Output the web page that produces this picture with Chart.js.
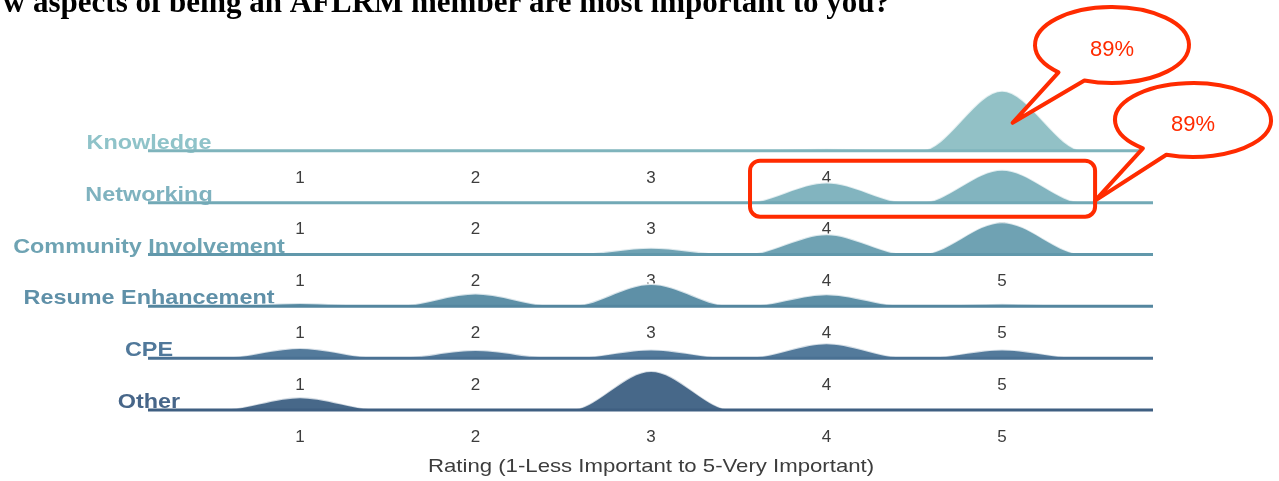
<!DOCTYPE html>
<html>
<head>
<meta charset="utf-8">
<script src="https://cdn.jsdelivr.net/npm/chart.js"></script>
<style>
  html, body { margin: 0; padding: 0; background: #fff; overflow: hidden; }
</style>
</head>
<body>
<canvas id="myChart" width="1279" height="481"></canvas>
<script>
// rows, top to bottom
const aspects = ['Knowledge', 'Networking', 'Community Involvement', 'Resume Enhancement', 'CPE', 'Other'];
const ratings = [1, 2, 3, 4, 5];
const tickLabels = ['1', '2', '3', '4', '5'];

// height of each ridge at rating 1..5 (% of answers)
const knowledge  = [0, 0, 1, 3, 89];
const networking = [0, 2, 1, 30, 49];
const community  = [0, 0, 10, 30, 48];
const resume     = [5, 19, 33, 18, 4];
const cpe        = [15, 12, 13, 22, 13];
const other      = [19, 1, 58, 0, 1];

const callouts = ['89%', '89%'];
const xTitle = 'Rating (1-Less Important to 5-Very Important)';
const question = 'w aspects of being an AFLRM member are most important to you?';

const rows = [knowledge, networking, community, resume, cpe, other];

// styling
const fills  = ['#92c1c6', '#82b4bf', '#6fa2b3', '#5e90a7', '#537a9b', '#476889'];
const lines  = ['#7fb4bc', '#72a9b6', '#6198ab', '#54869f', '#4a7193', '#3f5f81'];
const labelColors = ['#8fc3c9', '#7fb2bf', '#6ea3b3', '#5f90a8', '#50789a', '#476689'];
const X_MIN = 0.134, X_MAX = 5.86;
const ROW_STEP = 76.9;   // vertical gap between ridges, in value units
const FOOT = 0.47;       // half width of a bump at its foot
const RED = '#ff2b00';

function baseOf(i) { return (rows.length - 1 - i) * ROW_STEP; }

const datasets = [];
rows.forEach((vals, i) => {
  const base = baseOf(i);
  const pts = [{ x: X_MIN, y: base }];
  ratings.forEach((r, j) => {
    pts.push({ x: r - FOOT, y: base });
    pts.push({ x: r, y: base + vals[j] });
    pts.push({ x: r + FOOT, y: base });
  });
  pts.push({ x: X_MAX, y: base });
  datasets.push({
    label: aspects[i],
    data: pts,
    fill: { value: base },
    backgroundColor: fills[i],
    borderColor: 'rgba(255,255,255,0.75)',
    borderWidth: 2,
    pointRadius: 0,
    cubicInterpolationMode: 'monotone',
    clip: false,
    order: 100 - i * 10
  });
  datasets.push({
    label: aspects[i] + ' baseline',
    data: [{ x: X_MIN, y: base }, { x: X_MAX, y: base }],
    fill: false,
    borderColor: lines[i],
    borderWidth: 3,
    pointRadius: 0,
    clip: false,
    order: 99 - i * 10
  });
});

const textPlugin = {
  id: 'ridgeText',
  beforeDatasetsDraw(chart) {
    const ctx = chart.ctx;
    const xs = chart.scales.x, ys = chart.scales.y;
    ctx.save();
    // question title, cropped at the top of the shot
    ctx.fillStyle = '#000';
    ctx.font = 'bold 31px "Liberation Serif"';
    ctx.textAlign = 'right';
    ctx.textBaseline = 'alphabetic';
    ctx.fillText(question, 890, 12);

    // rating ticks under every ridge
    ctx.fillStyle = '#3d3d3d';
    ctx.font = '17px "Liberation Sans"';
    ctx.textAlign = 'center';
    ctx.textBaseline = 'middle';
    rows.forEach((v, i) => {
      const py = ys.getPixelForValue(baseOf(i)) + 27;
      ratings.forEach((r, j) => ctx.fillText(tickLabels[j], xs.getPixelForValue(r), py));
    });

    // row names, centred on the left end of each ridge
    ctx.font = 'bold 20px "Liberation Sans"';
    ctx.textBaseline = 'alphabetic';
    aspects.forEach((name, i) => {
      const py = ys.getPixelForValue(baseOf(i)) - 2;
      ctx.save();
      ctx.translate(xs.left + 1, py);
      ctx.scale(1.17, 1);
      ctx.fillStyle = labelColors[i];
      ctx.fillText(name, 0, 0);
      ctx.restore();
    });

    // x axis title
    ctx.fillStyle = '#3d3d3d';
    ctx.save();
    ctx.translate((xs.getPixelForValue(1) + xs.getPixelForValue(5)) / 2, 467);
    ctx.scale(1.167, 1);
    ctx.font = '19px "Liberation Sans"';
    ctx.textBaseline = 'middle';
    ctx.fillText(xTitle, 0, 0);
    ctx.restore();
    ctx.restore();
  },
  afterDraw(chart) {
    const ctx = chart.ctx;
    const xs = chart.scales.x, ys = chart.scales.y;
    const netBase = ys.getPixelForValue(baseOf(1));
    const knBase = ys.getPixelForValue(baseOf(0));
    ctx.save();
    ctx.strokeStyle = RED;
    ctx.lineWidth = 4;
    ctx.lineJoin = 'round';

    // box round Networking ratings 4 and 5
    const bx0 = xs.getPixelForValue(3.564), bx1 = xs.getPixelForValue(5.53);
    ctx.beginPath();
    ctx.roundRect(bx0, netBase - 42, bx1 - bx0, 56, 10);
    ctx.stroke();

    function bubble(cx, cy, rx, ry, a0, a1, tx, ty, text) {
      ctx.beginPath();
      ctx.ellipse(cx, cy, rx, ry, 0, a0 * Math.PI / 180, (a1 + 360) * Math.PI / 180);
      ctx.lineTo(tx, ty);
      ctx.closePath();
      ctx.fillStyle = '#fff';
      ctx.fill();
      ctx.stroke();
      ctx.fillStyle = RED;
      ctx.font = '22px "Liberation Sans"';
      ctx.textAlign = 'center';
      ctx.textBaseline = 'middle';
      ctx.fillText(text, cx, cy + 5);
    }
    bubble(1112, 45, 77, 38, 134, 111, xs.getPixelForValue(5.06), knBase - 28, callouts[0]);
    bubble(1193, 120, 78, 37, 130, 110, bx1, netBase - 2, callouts[1]);
    ctx.restore();
  }
};

new Chart(document.getElementById('myChart'), {
  type: 'line',
  data: { datasets },
  options: {
    responsive: false,
    animation: false,
    layout: { padding: { left: 148, right: 126, top: 59.5, bottom: 57.5 } },
    plugins: { legend: { display: false }, tooltip: { enabled: false } },
    scales: {
      x: { type: 'linear', display: false, min: X_MIN, max: X_MAX },
      y: { type: 'linear', display: false, min: -20, max: 520 }
    }
  },
  plugins: [textPlugin]
});
</script>
</body>
</html>
